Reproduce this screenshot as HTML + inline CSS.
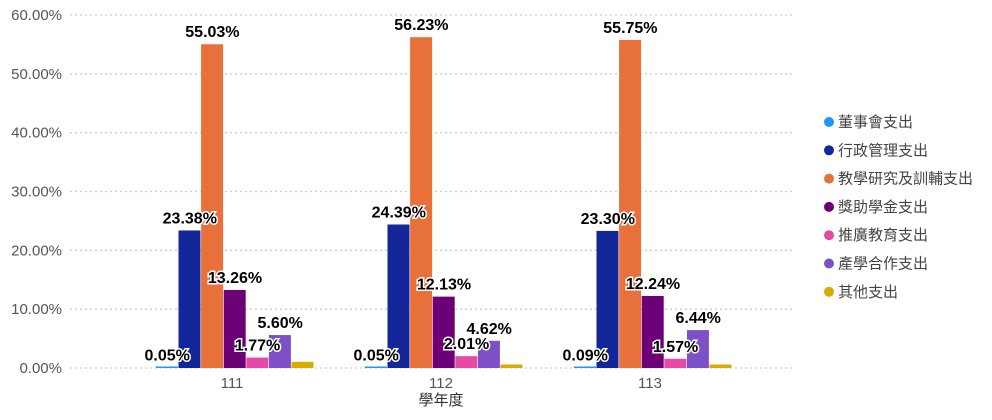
<!DOCTYPE html>
<html><head><meta charset="utf-8"><style>
body{margin:0;background:#fff;width:992px;height:415px;overflow:hidden}
svg text{font-family:"Liberation Sans","Noto Sans CJK TC",sans-serif}
</style></head><body>
<svg id="c" width="992" height="415"></svg>
<script>
const categories=["111","112","113"];
const seriesNames=["董事會支出","行政管理支出","教學研究及訓輔支出","獎助學金支出","推廣教育支出","產學合作支出","其他支出"];
const colors=["#2196f3","#13279b","#e8703a","#6b0077","#e54aa7","#7e50c7","#d9ad00"];
const s0=[0.05,0.05,0.09];
const s1=[23.38,24.39,23.30];
const s2=[55.03,56.23,55.75];
const s3=[13.26,12.13,12.24];
const s4=[1.77,2.01,1.57];
const s5=[5.60,4.62,6.44];
const s6=[1.05,0.6,0.6];
const showLabel=[true,true,true,true,true,true,false];
const yTicks=[0,10,20,30,40,50,60];
const series=[s0,s1,s2,s3,s4,s5,s6];
const NS="http://www.w3.org/2000/svg";
const svg=document.getElementById('c');
const x0=70,x1=795,y0=368,yTop=15;
const y=v=>y0-(v/60)*(y0-yTop);
const gw=209;
const bw=22.6;
const gx=i=>235+gw*i;
function mk(t,a,txt){const e=document.createElementNS(NS,t);for(const k in a)e.setAttribute(k,a[k]);if(txt!=null)e.textContent=txt;svg.appendChild(e);return e;}
yTicks.forEach(t=>{
 const l=mk('line',{x1:x0,x2:x1,y1:y(t),y2:y(t),stroke:'#ccc','stroke-dasharray':'2,3','stroke-width':1.3});
 
 
 const tx=mk('text',{x:62,y:y(t)+5,'text-anchor':'end','font-size':15,fill:'#555'},t.toFixed(2)+'%');
 
 
});
categories.forEach((c,i)=>{
 const tx=mk('text',{x:gx(i)-3,y:388,'text-anchor':'middle','font-size':15,fill:'#555'},c);
 
 
 series.forEach((s,j)=>{
  const bx=gx(i)+(j-3.5)*bw;
  const top=Math.min(y(s[i]),y0-1.5);
  const r=mk('rect',{x:bx,y:top,width:bw-0.6,height:y0-top,fill:colors[j]});
  
  
 });
 series.forEach((s,j)=>{
  if(!showLabel[j])return;
  const bx=gx(i)+(j-3.5)*bw+bw/2;
  const t=mk('text',{x:bx,y:y(s[i])-7,'text-anchor':'middle','font-size':16,'font-weight':'bold',fill:'#000',stroke:'#fff','stroke-width':3,'paint-order':'stroke'},s[i].toFixed(2)+'%');
  
  
 });
});
const xt=mk('text',{x:441,y:405,'text-anchor':'middle','font-size':15,fill:'#333'},'學年度');


seriesNames.forEach((n,j)=>{
 const ly=122+j*28.3;
 const g=document.createElementNS(NS,'g');svg.appendChild(g);
 
 
 const c=document.createElementNS(NS,'circle');c.setAttribute('cx',829);c.setAttribute('cy',ly);c.setAttribute('r',5);c.setAttribute('fill',colors[j]);g.appendChild(c);
 const t=document.createElementNS(NS,'text');t.setAttribute('x',838);t.setAttribute('y',ly+5);t.setAttribute('font-size',15);t.setAttribute('fill','#444');t.textContent=n;g.appendChild(t);
});
</script>
</body></html>
